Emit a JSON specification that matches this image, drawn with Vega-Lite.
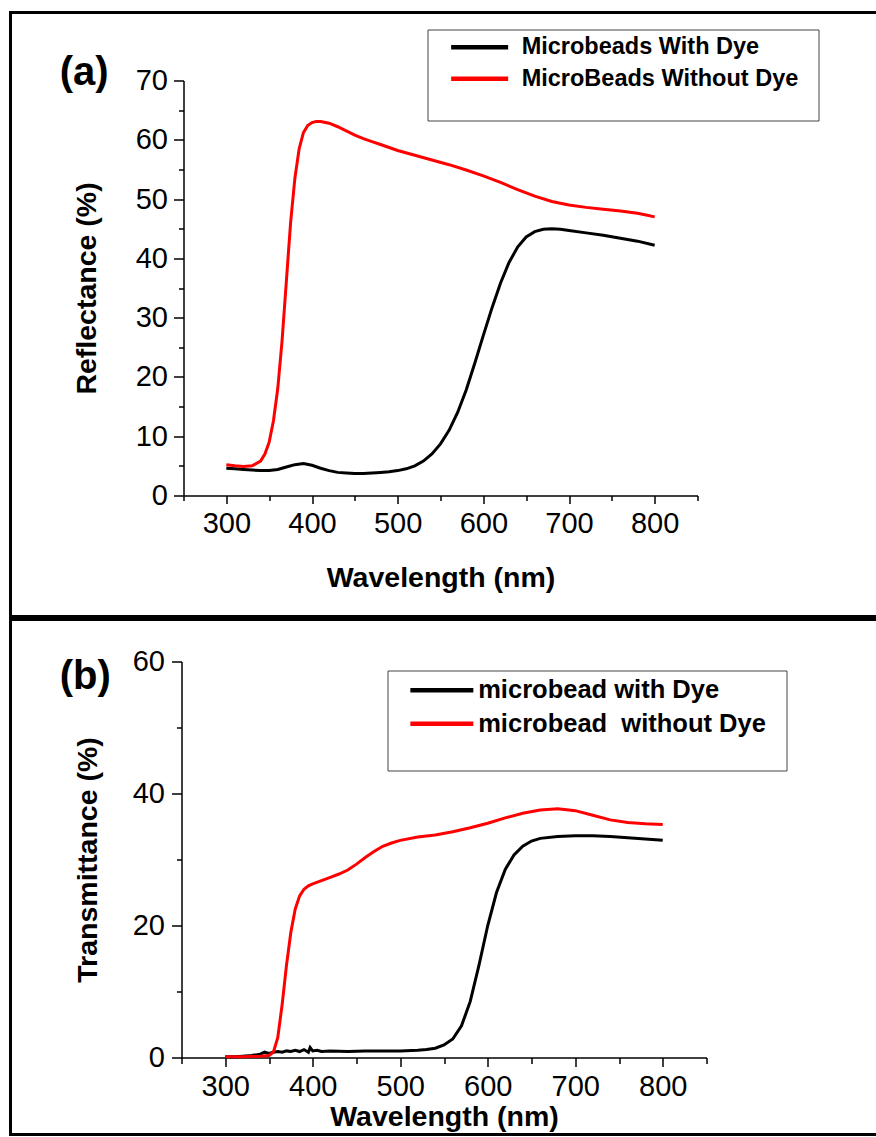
{
  "$schema": "https://vega.github.io/schema/vega-lite/v6.json",
  "padding": {"left": 8.5, "top": 10.5, "right": 0, "bottom": 0},
  "background": "white",
  "spacing": -1,
  "config": {
    "font": "Liberation Sans",
    "view": {"stroke": "black", "strokeWidth": 3},
    "axis": {
      "grid": false,
      "domainColor": "black",
      "domainWidth": 1.5,
      "tickColor": "black",
      "tickWidth": 1.5,
      "labelColor": "black",
      "titleColor": "black",
      "labelFont": "Liberation Sans",
      "titleFont": "Liberation Sans",
      "labelFontSize": 29,
      "titleFontSize": 28.5,
      "titleFontWeight": "bold",
      "labelFlush": false,
      "labelOverlap": false
    },
    "legend": {
      "labelFont": "Liberation Sans",
      "labelFontWeight": "bold",
      "labelColor": "black",
      "labelLimit": 500,
      "titleLimit": 600,
      "symbolType": "M-4,0H4",
      "strokeColor": "#444444",
      "titleOrient": "bottom",
      "titleColor": "white",
      "titleFont": "Liberation Sans",
      "titleFontWeight": "normal"
    }
  },
  "datasets": {
    "refl": [
      {"sample": "Microbeads With Dye", "wl": 300, "value": 4.6},
      {"sample": "Microbeads With Dye", "wl": 310, "value": 4.5},
      {"sample": "Microbeads With Dye", "wl": 320, "value": 4.4},
      {"sample": "Microbeads With Dye", "wl": 330, "value": 4.3},
      {"sample": "Microbeads With Dye", "wl": 340, "value": 4.2},
      {"sample": "Microbeads With Dye", "wl": 350, "value": 4.2},
      {"sample": "Microbeads With Dye", "wl": 360, "value": 4.4},
      {"sample": "Microbeads With Dye", "wl": 370, "value": 4.8},
      {"sample": "Microbeads With Dye", "wl": 380, "value": 5.2},
      {"sample": "Microbeads With Dye", "wl": 390, "value": 5.4},
      {"sample": "Microbeads With Dye", "wl": 400, "value": 5.1},
      {"sample": "Microbeads With Dye", "wl": 410, "value": 4.6},
      {"sample": "Microbeads With Dye", "wl": 420, "value": 4.2},
      {"sample": "Microbeads With Dye", "wl": 430, "value": 3.9},
      {"sample": "Microbeads With Dye", "wl": 440, "value": 3.8},
      {"sample": "Microbeads With Dye", "wl": 450, "value": 3.7},
      {"sample": "Microbeads With Dye", "wl": 460, "value": 3.7},
      {"sample": "Microbeads With Dye", "wl": 470, "value": 3.8},
      {"sample": "Microbeads With Dye", "wl": 480, "value": 3.9},
      {"sample": "Microbeads With Dye", "wl": 490, "value": 4.0},
      {"sample": "Microbeads With Dye", "wl": 500, "value": 4.2},
      {"sample": "Microbeads With Dye", "wl": 510, "value": 4.5},
      {"sample": "Microbeads With Dye", "wl": 520, "value": 5.0},
      {"sample": "Microbeads With Dye", "wl": 530, "value": 5.8},
      {"sample": "Microbeads With Dye", "wl": 540, "value": 7.0},
      {"sample": "Microbeads With Dye", "wl": 550, "value": 8.7},
      {"sample": "Microbeads With Dye", "wl": 560, "value": 11.0},
      {"sample": "Microbeads With Dye", "wl": 570, "value": 14.0},
      {"sample": "Microbeads With Dye", "wl": 580, "value": 17.8},
      {"sample": "Microbeads With Dye", "wl": 590, "value": 22.3},
      {"sample": "Microbeads With Dye", "wl": 600, "value": 27.0},
      {"sample": "Microbeads With Dye", "wl": 610, "value": 31.6},
      {"sample": "Microbeads With Dye", "wl": 620, "value": 35.8},
      {"sample": "Microbeads With Dye", "wl": 630, "value": 39.3},
      {"sample": "Microbeads With Dye", "wl": 640, "value": 41.9},
      {"sample": "Microbeads With Dye", "wl": 650, "value": 43.6},
      {"sample": "Microbeads With Dye", "wl": 660, "value": 44.5},
      {"sample": "Microbeads With Dye", "wl": 670, "value": 44.9},
      {"sample": "Microbeads With Dye", "wl": 680, "value": 45.0},
      {"sample": "Microbeads With Dye", "wl": 690, "value": 44.9},
      {"sample": "Microbeads With Dye", "wl": 700, "value": 44.7},
      {"sample": "Microbeads With Dye", "wl": 720, "value": 44.3},
      {"sample": "Microbeads With Dye", "wl": 740, "value": 43.9},
      {"sample": "Microbeads With Dye", "wl": 760, "value": 43.4},
      {"sample": "Microbeads With Dye", "wl": 780, "value": 42.9},
      {"sample": "Microbeads With Dye", "wl": 800, "value": 42.2},
      {"sample": "MicroBeads Without Dye", "wl": 300, "value": 5.2},
      {"sample": "MicroBeads Without Dye", "wl": 310, "value": 5.0},
      {"sample": "MicroBeads Without Dye", "wl": 320, "value": 4.9},
      {"sample": "MicroBeads Without Dye", "wl": 330, "value": 5.0},
      {"sample": "MicroBeads Without Dye", "wl": 340, "value": 5.8},
      {"sample": "MicroBeads Without Dye", "wl": 345, "value": 7.0},
      {"sample": "MicroBeads Without Dye", "wl": 350, "value": 9.0},
      {"sample": "MicroBeads Without Dye", "wl": 355, "value": 12.6},
      {"sample": "MicroBeads Without Dye", "wl": 360, "value": 18.0},
      {"sample": "MicroBeads Without Dye", "wl": 365, "value": 26.0},
      {"sample": "MicroBeads Without Dye", "wl": 370, "value": 36.0},
      {"sample": "MicroBeads Without Dye", "wl": 375, "value": 46.0},
      {"sample": "MicroBeads Without Dye", "wl": 380, "value": 53.5},
      {"sample": "MicroBeads Without Dye", "wl": 385, "value": 58.5},
      {"sample": "MicroBeads Without Dye", "wl": 390, "value": 61.2},
      {"sample": "MicroBeads Without Dye", "wl": 395, "value": 62.4},
      {"sample": "MicroBeads Without Dye", "wl": 400, "value": 62.9},
      {"sample": "MicroBeads Without Dye", "wl": 405, "value": 63.1},
      {"sample": "MicroBeads Without Dye", "wl": 410, "value": 63.1},
      {"sample": "MicroBeads Without Dye", "wl": 420, "value": 62.8},
      {"sample": "MicroBeads Without Dye", "wl": 430, "value": 62.2},
      {"sample": "MicroBeads Without Dye", "wl": 440, "value": 61.5},
      {"sample": "MicroBeads Without Dye", "wl": 450, "value": 60.8},
      {"sample": "MicroBeads Without Dye", "wl": 460, "value": 60.2},
      {"sample": "MicroBeads Without Dye", "wl": 470, "value": 59.7},
      {"sample": "MicroBeads Without Dye", "wl": 480, "value": 59.2},
      {"sample": "MicroBeads Without Dye", "wl": 490, "value": 58.7},
      {"sample": "MicroBeads Without Dye", "wl": 500, "value": 58.2},
      {"sample": "MicroBeads Without Dye", "wl": 520, "value": 57.4},
      {"sample": "MicroBeads Without Dye", "wl": 540, "value": 56.6},
      {"sample": "MicroBeads Without Dye", "wl": 560, "value": 55.8},
      {"sample": "MicroBeads Without Dye", "wl": 580, "value": 54.9},
      {"sample": "MicroBeads Without Dye", "wl": 600, "value": 53.9},
      {"sample": "MicroBeads Without Dye", "wl": 620, "value": 52.8},
      {"sample": "MicroBeads Without Dye", "wl": 640, "value": 51.6},
      {"sample": "MicroBeads Without Dye", "wl": 660, "value": 50.5},
      {"sample": "MicroBeads Without Dye", "wl": 680, "value": 49.6},
      {"sample": "MicroBeads Without Dye", "wl": 700, "value": 49.0},
      {"sample": "MicroBeads Without Dye", "wl": 720, "value": 48.6},
      {"sample": "MicroBeads Without Dye", "wl": 740, "value": 48.3},
      {"sample": "MicroBeads Without Dye", "wl": 760, "value": 48.0},
      {"sample": "MicroBeads Without Dye", "wl": 780, "value": 47.6},
      {"sample": "MicroBeads Without Dye", "wl": 790, "value": 47.3},
      {"sample": "MicroBeads Without Dye", "wl": 800, "value": 47.0}
    ],
    "trans": [
      {"sample": "microbead with Dye", "wl": 300, "value": 0.1},
      {"sample": "microbead with Dye", "wl": 310, "value": 0.1},
      {"sample": "microbead with Dye", "wl": 320, "value": 0.2},
      {"sample": "microbead with Dye", "wl": 330, "value": 0.3},
      {"sample": "microbead with Dye", "wl": 340, "value": 0.5},
      {"sample": "microbead with Dye", "wl": 345, "value": 0.8},
      {"sample": "microbead with Dye", "wl": 350, "value": 0.6},
      {"sample": "microbead with Dye", "wl": 355, "value": 0.8},
      {"sample": "microbead with Dye", "wl": 360, "value": 0.9},
      {"sample": "microbead with Dye", "wl": 365, "value": 0.8},
      {"sample": "microbead with Dye", "wl": 370, "value": 1.0},
      {"sample": "microbead with Dye", "wl": 375, "value": 0.9},
      {"sample": "microbead with Dye", "wl": 380, "value": 1.1},
      {"sample": "microbead with Dye", "wl": 385, "value": 0.9},
      {"sample": "microbead with Dye", "wl": 390, "value": 1.2},
      {"sample": "microbead with Dye", "wl": 395, "value": 0.8},
      {"sample": "microbead with Dye", "wl": 397, "value": 1.5},
      {"sample": "microbead with Dye", "wl": 400, "value": 1.0},
      {"sample": "microbead with Dye", "wl": 405, "value": 1.1},
      {"sample": "microbead with Dye", "wl": 410, "value": 0.9},
      {"sample": "microbead with Dye", "wl": 420, "value": 1.0},
      {"sample": "microbead with Dye", "wl": 440, "value": 0.9},
      {"sample": "microbead with Dye", "wl": 460, "value": 1.0},
      {"sample": "microbead with Dye", "wl": 480, "value": 1.0},
      {"sample": "microbead with Dye", "wl": 500, "value": 1.0},
      {"sample": "microbead with Dye", "wl": 520, "value": 1.1},
      {"sample": "microbead with Dye", "wl": 530, "value": 1.2},
      {"sample": "microbead with Dye", "wl": 540, "value": 1.4},
      {"sample": "microbead with Dye", "wl": 550, "value": 1.9},
      {"sample": "microbead with Dye", "wl": 560, "value": 2.8},
      {"sample": "microbead with Dye", "wl": 570, "value": 4.8},
      {"sample": "microbead with Dye", "wl": 580, "value": 8.5},
      {"sample": "microbead with Dye", "wl": 590, "value": 14.0},
      {"sample": "microbead with Dye", "wl": 600, "value": 20.0},
      {"sample": "microbead with Dye", "wl": 610, "value": 25.0},
      {"sample": "microbead with Dye", "wl": 620, "value": 28.5},
      {"sample": "microbead with Dye", "wl": 630, "value": 30.7},
      {"sample": "microbead with Dye", "wl": 640, "value": 32.0},
      {"sample": "microbead with Dye", "wl": 650, "value": 32.8},
      {"sample": "microbead with Dye", "wl": 660, "value": 33.2},
      {"sample": "microbead with Dye", "wl": 680, "value": 33.5},
      {"sample": "microbead with Dye", "wl": 700, "value": 33.6},
      {"sample": "microbead with Dye", "wl": 720, "value": 33.6},
      {"sample": "microbead with Dye", "wl": 740, "value": 33.5},
      {"sample": "microbead with Dye", "wl": 760, "value": 33.3},
      {"sample": "microbead with Dye", "wl": 780, "value": 33.1},
      {"sample": "microbead with Dye", "wl": 800, "value": 32.9},
      {"sample": "microbead\u00a0 without Dye", "wl": 300, "value": 0.1},
      {"sample": "microbead\u00a0 without Dye", "wl": 320, "value": 0.1},
      {"sample": "microbead\u00a0 without Dye", "wl": 340, "value": 0.2},
      {"sample": "microbead\u00a0 without Dye", "wl": 350, "value": 0.3},
      {"sample": "microbead\u00a0 without Dye", "wl": 355, "value": 0.8},
      {"sample": "microbead\u00a0 without Dye", "wl": 360, "value": 3.0},
      {"sample": "microbead\u00a0 without Dye", "wl": 365, "value": 8.0},
      {"sample": "microbead\u00a0 without Dye", "wl": 370, "value": 14.0},
      {"sample": "microbead\u00a0 without Dye", "wl": 375, "value": 19.0},
      {"sample": "microbead\u00a0 without Dye", "wl": 380, "value": 22.5},
      {"sample": "microbead\u00a0 without Dye", "wl": 385, "value": 24.5},
      {"sample": "microbead\u00a0 without Dye", "wl": 390, "value": 25.5},
      {"sample": "microbead\u00a0 without Dye", "wl": 395, "value": 26.0},
      {"sample": "microbead\u00a0 without Dye", "wl": 400, "value": 26.3},
      {"sample": "microbead\u00a0 without Dye", "wl": 410, "value": 26.8},
      {"sample": "microbead\u00a0 without Dye", "wl": 420, "value": 27.3},
      {"sample": "microbead\u00a0 without Dye", "wl": 430, "value": 27.8},
      {"sample": "microbead\u00a0 without Dye", "wl": 440, "value": 28.4},
      {"sample": "microbead\u00a0 without Dye", "wl": 450, "value": 29.3},
      {"sample": "microbead\u00a0 without Dye", "wl": 460, "value": 30.3},
      {"sample": "microbead\u00a0 without Dye", "wl": 470, "value": 31.2},
      {"sample": "microbead\u00a0 without Dye", "wl": 480, "value": 32.0},
      {"sample": "microbead\u00a0 without Dye", "wl": 490, "value": 32.5},
      {"sample": "microbead\u00a0 without Dye", "wl": 500, "value": 32.9},
      {"sample": "microbead\u00a0 without Dye", "wl": 520, "value": 33.4},
      {"sample": "microbead\u00a0 without Dye", "wl": 540, "value": 33.7},
      {"sample": "microbead\u00a0 without Dye", "wl": 560, "value": 34.2},
      {"sample": "microbead\u00a0 without Dye", "wl": 580, "value": 34.8},
      {"sample": "microbead\u00a0 without Dye", "wl": 600, "value": 35.5},
      {"sample": "microbead\u00a0 without Dye", "wl": 620, "value": 36.3},
      {"sample": "microbead\u00a0 without Dye", "wl": 640, "value": 37.0},
      {"sample": "microbead\u00a0 without Dye", "wl": 660, "value": 37.5},
      {"sample": "microbead\u00a0 without Dye", "wl": 680, "value": 37.7},
      {"sample": "microbead\u00a0 without Dye", "wl": 700, "value": 37.4},
      {"sample": "microbead\u00a0 without Dye", "wl": 720, "value": 36.7},
      {"sample": "microbead\u00a0 without Dye", "wl": 740, "value": 36.0},
      {"sample": "microbead\u00a0 without Dye", "wl": 760, "value": 35.6},
      {"sample": "microbead\u00a0 without Dye", "wl": 780, "value": 35.4},
      {"sample": "microbead\u00a0 without Dye", "wl": 800, "value": 35.3}
    ]
  },
  "resolve": {
    "scale": {"x": "independent", "y": "independent", "color": "independent"},
    "axis": {"x": "independent", "y": "independent"},
    "legend": {"color": "independent"}
  },
  "vconcat": [
    {
      "width": 870,
      "height": 604,
      "view": {"stroke": "black", "strokeWidth": 3, "strokeDash": [870, 604, 1474]},
      "layer": [
        {
          "data": {"name": "refl"},
          "mark": {"type": "line", "strokeWidth": 3, "clip": false},
          "encoding": {
            "x": {
              "field": "wl", "type": "quantitative",
              "scale": {"domain": [250, 850], "range": [173, 687], "nice": false, "zero": false},
              "axis": {
                "title": "Wavelength (nm)",
                "offset": -121,
                "values": [250, 300, 350, 400, 450, 500, 550, 600, 650, 700, 750, 800, 850],
                "labelExpr": "datum.value % 100 === 0 && datum.value >= 300 && datum.value <= 800 ? datum.label : ''",
                "tickSize": {"condition": {"test": "datum.value % 100 === 0", "value": 8}, "value": 5},
                "labelPadding": 6,
                "titlePadding": 25
              }
            },
            "y": {
              "field": "value", "type": "quantitative",
              "scale": {"domain": [0, 70], "range": [483, 68], "nice": false, "zero": false},
              "axis": {
                "title": "Reflectance (%)",
                "offset": -173,
                "values": [0, 5, 10, 15, 20, 25, 30, 35, 40, 45, 50, 55, 60, 65, 70],
                "labelExpr": "datum.value % 10 === 0 ? datum.label : ''",
                "tickSize": {"condition": {"test": "datum.value % 10 === 0", "value": 10}, "value": 5},
                "labelPadding": 6,
                "titlePadding": 34
              }
            },
            "color": {
              "field": "sample", "type": "nominal",
              "scale": {"domain": ["Microbeads With Dye", "MicroBeads Without Dye"], "range": ["#000000", "#ff0000"]},
              "legend": {
                "orient": "none",
                "legendX": 417,
                "legendY": 17,
                "title": "__________________________________",
                "titleFontSize": 20,
                "titlePadding": 4,
                "padding": 6,
                "rowPadding": 6.5,
                "symbolSize": 203,
                "symbolStrokeWidth": 4.5,
                "symbolOffset": 34.4,
                "labelFontSize": 23.5,
                "labelOffset": 30.3
              }
            }
          }
        },
        {
          "data": {"values": [{"tag": "(a)"}]},
          "mark": {"type": "text", "fontSize": 40, "fontWeight": "bold", "align": "center", "baseline": "middle", "color": "black", "clip": false},
          "encoding": {
            "x": {"datum": 134},
            "y": {"datum": 71.3},
            "text": {"field": "tag", "type": "nominal"}
          }
        }
      ]
    },
    {
      "width": 870,
      "height": 515,
      "view": {"stroke": "black", "strokeWidth": 3, "strokeDash": [870, 515, 1385]},
      "layer": [
        {
          "data": {"name": "trans"},
          "mark": {"type": "line", "strokeWidth": 3, "clip": false},
          "encoding": {
            "x": {
              "field": "wl", "type": "quantitative",
              "scale": {"domain": [250, 850], "range": [171, 696], "nice": false, "zero": false},
              "axis": {
                "title": "Wavelength (nm)",
                "offset": -77,
                "values": [250, 300, 350, 400, 450, 500, 550, 600, 650, 700, 750, 800, 850],
                "labelExpr": "datum.value % 100 === 0 && datum.value >= 300 && datum.value <= 800 ? datum.label : ''",
                "tickSize": {"condition": {"test": "datum.value % 100 === 0", "value": 9}, "value": 6},
                "labelPadding": 6,
                "titlePadding": 1
              }
            },
            "y": {
              "field": "value", "type": "quantitative",
              "scale": {"domain": [0, 60], "range": [438, 42], "nice": false, "zero": false},
              "axis": {
                "title": "Transmittance (%)",
                "offset": -171,
                "values": [0, 10, 20, 30, 40, 50, 60],
                "labelExpr": "datum.value % 20 === 0 ? datum.label : ''",
                "tickSize": {"condition": {"test": "datum.value % 20 === 0", "value": 10}, "value": 5},
                "labelPadding": 7,
                "titlePadding": 30
              }
            },
            "color": {
              "field": "sample", "type": "nominal",
              "scale": {"domain": ["microbead with Dye", "microbead\u00a0 without Dye"], "range": ["#000000", "#ff0000"]},
              "legend": {
                "orient": "none",
                "legendX": 377,
                "legendY": 51,
                "title": "________________________________",
                "titleFontSize": 21.6,
                "titlePadding": 4,
                "padding": 7,
                "rowPadding": 6.5,
                "symbolSize": 248,
                "symbolStrokeWidth": 4.5,
                "symbolOffset": 34.6,
                "labelFontSize": 25.5,
                "labelOffset": 23.6
              }
            }
          }
        },
        {
          "data": {"values": [{"tag": "(b)"}]},
          "mark": {"type": "text", "fontSize": 40, "fontWeight": "bold", "align": "center", "baseline": "middle", "color": "black", "clip": false},
          "encoding": {
            "x": {"datum": 140},
            "y": {"datum": 57.7},
            "text": {"field": "tag", "type": "nominal"}
          }
        }
      ]
    }
  ]
}
